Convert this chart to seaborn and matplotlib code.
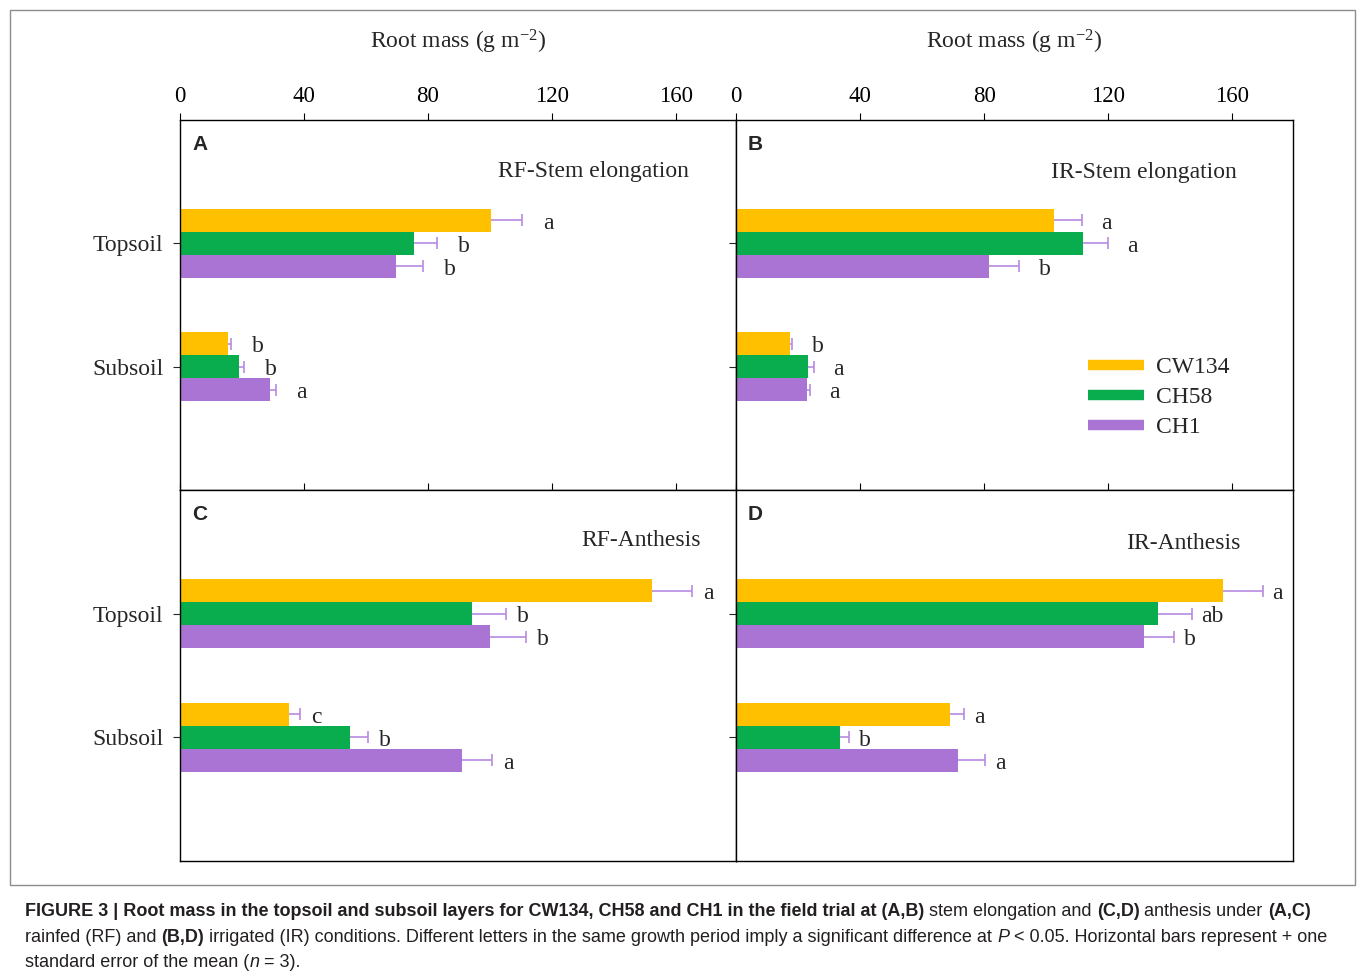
import numpy as np
import pandas as pd
import matplotlib
matplotlib.use("Agg")
import matplotlib.pyplot as plt
from matplotlib.lines import Line2D
from matplotlib.patches import Rectangle
from matplotlib.container import BarContainer
import seaborn as sns

# ---------------- data ----------------
cultivars = ["CW134", "CH58", "CH1"]
layers = ["Topsoil", "Subsoil"]
panels = ["A", "B", "C", "D"]
panel_titles = ["RF-Stem elongation", "IR-Stem elongation", "RF-Anthesis", "IR-Anthesis"]

# mean root mass (g m-2): [layer][cultivar]
mass_A = [[100.5, 75.4, 69.8], [15.6, 18.9, 29.1]]
mass_B = [[102.5, 111.9, 81.6], [17.3, 23.1, 22.9]]
mass_C = [[152.4, 94.2, 100.0], [35.1, 54.8, 91.1]]
mass_D = [[156.9, 136.0, 131.4], [68.9, 33.5, 71.5]]

se_A = [[10.0, 7.7, 8.7], [0.8, 1.7, 1.8]]
se_B = [[8.9, 7.9, 9.7], [0.8, 1.9, 1.0]]
se_C = [[12.8, 11.0, 11.7], [3.5, 6.0, 9.7]]
se_D = [[12.8, 10.9, 9.7], [4.7, 3.0, 8.9]]

letters_A = [["a", "b", "b"], ["b", "b", "a"]]
letters_B = [["a", "a", "b"], ["b", "a", "a"]]
letters_C = [["a", "b", "b"], ["c", "b", "a"]]
letters_D = [["a", "ab", "b"], ["a", "b", "a"]]

xticks = [0, 40, 80, 120, 160]
xlabel = "Root mass (g m$^{\\mathrm{-2}}$)"

caption_lines = [
    [("FIGURE 3 | Root mass in the topsoil and subsoil layers for CW134, CH58 and CH1 in the field trial at (A,B)", "bold", "normal"),
     (" stem elongation and ", "normal", "normal"),
     ("(C,D)", "bold", "normal"),
     (" anthesis under ", "normal", "normal"),
     ("(A,C)", "bold", "normal")],
    [("rainfed (RF) and ", "normal", "normal"),
     ("(B,D)", "bold", "normal"),
     (" irrigated (IR) conditions. Different letters in the same growth period imply a significant difference at ", "normal", "normal"),
     ("P", "normal", "italic"),
     (" < 0.05. Horizontal bars represent + one", "normal", "normal")],
    [("standard error of the mean (", "normal", "normal"),
     ("n", "normal", "italic"),
     (" = 3).", "normal", "normal")],
]

# ---------------- style ----------------
sns.set_style("white")
plt.rcParams["font.family"] = ["Liberation Serif", "DejaVu Serif"]
plt.rcParams["mathtext.fontset"] = "custom"
plt.rcParams["mathtext.rm"] = "Liberation Serif"
plt.rcParams["mathtext.it"] = "Liberation Serif:italic"

colors = ["#FFC000", "#0AAD4E", "#AA74D4"]
err_color = "#B98AE3"
FS = 17

W, H = 1358, 980
fig = plt.figure(figsize=(W / 100, H / 100), dpi=100)

# axes rectangles in pixels: (left, top, right, bottom)
rects = [(180, 120, 736, 490), (736, 120, 1293, 490),
         (180, 490, 736, 861), (736, 490, 1293, 861)]
title_pos = [(0.9155, 0.862), (0.8995, 0.859), (0.937, 0.865), (0.9066, 0.857)]
letter_off = [15, 14, 8, 7]  # points

all_mass = [mass_A, mass_B, mass_C, mass_D]
all_se = [se_A, se_B, se_C, se_D]
all_letters = [letters_A, letters_B, letters_C, letters_D]

for i in range(4):
    l, t, r, b = rects[i]
    ax = fig.add_axes([l / W, 1 - b / H, (r - l) / W, (b - t) / H])
    rows = []
    for li, layer in enumerate(layers):
        for ci, cv in enumerate(cultivars):
            rows.append({"layer": layer, "cultivar": cv,
                         "mass": all_mass[i][li][ci], "se": all_se[i][li][ci],
                         "letter": all_letters[i][li][ci]})
    df = pd.DataFrame(rows)
    sns.barplot(data=df, x="mass", y="layer", hue="cultivar", order=layers,
                hue_order=cultivars, palette=colors, orient="h", width=0.56,
                saturation=1, errorbar=None, linewidth=0, legend=False, ax=ax)

    bar_conts = [c for c in ax.containers if isinstance(c, BarContainer)]
    for ci, cont in enumerate(bar_conts):
        sub = df[df["cultivar"] == cultivars[ci]].set_index("layer").loc[layers]
        for li, patch in enumerate(cont.patches):
            yc = patch.get_y() + patch.get_height() / 2
            xe = patch.get_width()
            se = sub["se"].iloc[li]
            eb = ax.errorbar(xe, yc, xerr=[[0], [se]], fmt="none", ecolor=err_color,
                             elinewidth=1.2, capsize=4.5, capthick=1.2, zorder=3)
            # keep only the outer cap (one-sided error bar)
            for cap in eb[1]:
                if np.allclose(cap.get_xdata(), [xe]):
                    cap.set_visible(False)
            ax.annotate(sub["letter"].iloc[li], xy=(xe + se, yc),
                        xytext=(letter_off[i], -2), textcoords="offset points",
                        ha="left", va="center", fontsize=FS)

    ax.set_xlim(0, 179.5)
    ax.set_ylim(2, -1)
    ax.set_xticks(xticks)
    ax.set_xlabel("")
    ax.set_ylabel("")
    ax.xaxis.set_ticks_position("top")
    ax.tick_params(axis="x", direction="out", length=5, width=0.8, pad=4,
                   labelsize=FS - 0.5, top=True, bottom=False,
                   labeltop=(i < 2), labelbottom=False, colors="black")
    ax.tick_params(axis="y", direction="out", length=5, width=0.8, pad=7,
                   labelsize=FS, left=True, labelleft=(i % 2 == 0))
    for s in ax.spines.values():
        s.set_visible(True)
        s.set_color("black")
        s.set_linewidth(1.0)
    ax.set_facecolor("white")

    ax.text(0.0216, 0.933, panels[i], transform=ax.transAxes, ha="left", va="center",
            fontsize=15, fontweight="bold", family=["Liberation Sans", "DejaVu Sans"])
    ax.text(title_pos[i][0], title_pos[i][1], panel_titles[i], transform=ax.transAxes,
            ha="right", va="center", fontsize=FS)

    if i == 1:
        handles = [Line2D([0], [0], color=c, lw=7.5, solid_capstyle="butt") for c in colors]
        ax.legend(handles, cultivars, loc="upper left", bbox_to_anchor=(0.632, 0.36),
                  frameon=False, fontsize=FS, handlelength=2.35, handletextpad=0.55,
                  labelspacing=0.36, borderpad=0, borderaxespad=0)

# column x-labels
fig.text(458 / W, 1 - 42 / H, xlabel, ha="center", va="center", fontsize=FS)
fig.text(1014.5 / W, 1 - 42 / H, xlabel, ha="center", va="center", fontsize=FS)

# figure border
fig.patches.append(Rectangle((10 / W, 1 - 885 / H), 1345 / W, 875 / H,
                             transform=fig.transFigure, fill=False,
                             edgecolor="#8c8c8c", linewidth=1.0))

# caption (rich text placed segment by segment)
cap_family = ["Liberation Sans Narrow", "Liberation Sans", "DejaVu Sans"]
renderer = fig.canvas.get_renderer()


def space_width(size, weight):
    a = fig.text(0, 0, "x x", fontsize=size, fontweight=weight, family=cap_family)
    b = fig.text(0, 0, "xx", fontsize=size, fontweight=weight, family=cap_family)
    w = a.get_window_extent(renderer).width - b.get_window_extent(renderer).width
    a.remove(); b.remove()
    return w


def draw_line(x0, yc, segs, size, draw=True):
    cur = x0
    made = []
    for text, weight, style in segs:
        sw = space_width(size, weight)
        if text.startswith(" "):
            cur += sw
        t = fig.text(cur / W, yc, text.strip(), fontsize=size, fontweight=weight,
                     fontstyle=style, family=cap_family, ha="left", va="center",
                     color="#231f20")
        bb = t.get_window_extent(renderer)
        cur = bb.x1
        if text.endswith(" "):
            cur += sw
        made.append(t)
    if not draw:
        for t in made:
            t.remove()
    return cur - x0


base = 13.0
w1 = draw_line(25, 0.0, caption_lines[0], base, draw=False)
w2 = draw_line(25, 0.0, caption_lines[1], base, draw=False)
cap_size = min(base * 1315 / w1, base * 1300 / w2)
ys = [912, 937, 962]
for segs, y in zip(caption_lines, ys):
    draw_line(25, 1 - y / H, segs, cap_size)

fig.savefig("out.png", dpi=100, facecolor="white")
